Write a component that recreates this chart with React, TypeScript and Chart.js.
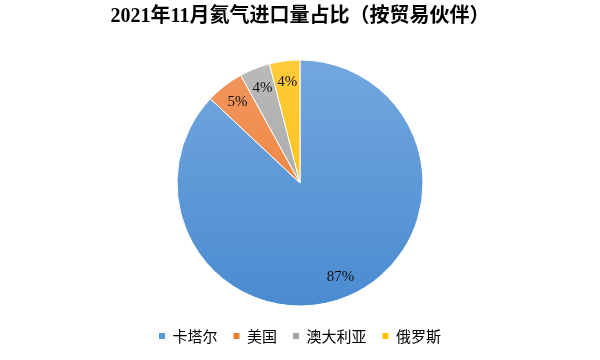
import React, { useEffect, useRef } from "react";
import { Chart, registerables } from "chart.js";

Chart.register(...registerables);

const partners = ["卡塔尔", "美国", "澳大利亚", "俄罗斯"];
const shares = [87, 5, 4, 4];
const shareLabels = ["87%", "5%", "4%", "4%"];
const solidColors = ["#5b9bd5", "#ed7d31", "#a5a5a5", "#ffc000"];
const topColors = ["#72a7de", "#f2975f", "#b9b9b9", "#ffcb3a"];
const bottomColors = ["#4a8bd0", "#ea7a2e", "#a2a2a2", "#fdbd00"];
const titleText = "2021年11月氦气进口量占比（按贸易伙伴）";

const sliceLabelPlugin = {
  id: "sliceLabels",
  afterDatasetsDraw(chart: any) {
    const meta = chart.getDatasetMeta(0);
    const ctx = chart.ctx;
    ctx.save();
    ctx.font = "15px 'Liberation Serif', 'Noto Sans CJK SC', serif";
    ctx.fillStyle = "#111";
    ctx.textAlign = "center";
    ctx.textBaseline = "middle";
    meta.data.forEach((arc: any, i: number) => {
      const p = arc.getProps(["x", "y", "startAngle", "endAngle", "outerRadius"], true);
      const mid = (p.startAngle + p.endAngle) / 2;
      const r = p.outerRadius * 0.83;
      ctx.fillText(shareLabels[i], p.x + Math.cos(mid) * r, p.y + Math.sin(mid) * r);
    });
    ctx.restore();
  },
};

export default function App() {
  const ref = useRef<HTMLCanvasElement | null>(null);
  useEffect(() => {
    document.body.style.margin = "0";
    const canvas = ref.current!;
    const chart = new Chart(canvas, {
      type: "pie",
      data: {
        labels: partners,
        datasets: [
          {
            data: shares,
            radius: 123,
            borderColor: "#ffffff",
            borderWidth: 1,
            backgroundColor: (c: any) => {
              const ch = c.chart;
              const area = ch.chartArea;
              const i = c.dataIndex ?? 0;
              if (!area) return solidColors[i];
              const cy = (area.top + area.bottom) / 2;
              const g = ch.ctx.createLinearGradient(0, cy - 123, 0, cy + 123);
              g.addColorStop(0, topColors[i]);
              g.addColorStop(1, bottomColors[i]);
              return g;
            },
          },
        ],
      },
      options: {
        responsive: false,
        animation: false,
        devicePixelRatio: 1,
        layout: { padding: { top: 0, bottom: 6.5, left: 0, right: 0 } },
        plugins: {
          title: {
            display: true,
            text: titleText,
            color: "#000",
            font: {
              size: 20,
              weight: "bold",
              family: "'Liberation Serif', 'Noto Sans CJK SC', serif",
              lineHeight: 1.2,
            },
            padding: { top: 5, bottom: 24.5 },
          },
          legend: {
            display: true,
            position: "bottom",
            labels: {
              boxWidth: 6,
              boxHeight: 6,
              padding: 16,
              color: "#404040",
              font: { size: 15, family: "'Noto Sans CJK SC', sans-serif" },
              generateLabels: () =>
                partners.map((t, i) => ({
                  text: t,
                  fillStyle: solidColors[i],
                  strokeStyle: solidColors[i],
                  lineWidth: 0,
                  hidden: false,
                  index: i,
                })),
            },
          },
          tooltip: { enabled: false },
        },
      },
      plugins: [sliceLabelPlugin],
    });
    return () => chart.destroy();
  }, []);
  return (
    <div style={{ width: 600, height: 360 }}>
      <canvas ref={ref} width={600} height={360} />
    </div>
  );
}
